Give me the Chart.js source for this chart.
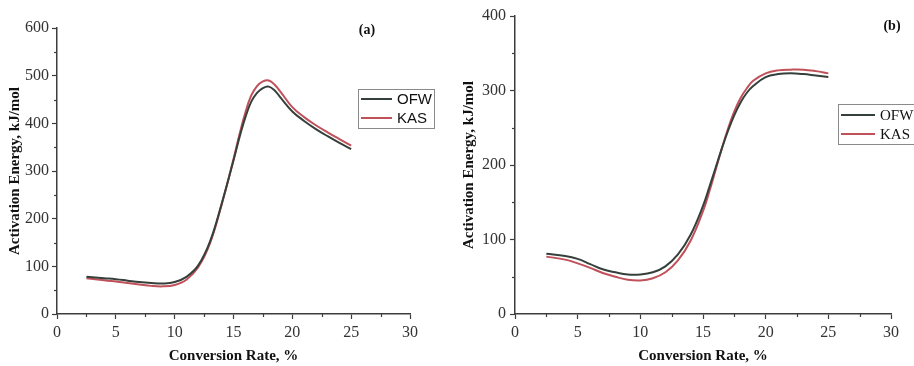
<!DOCTYPE html>
<html>
<head>
<meta charset="utf-8">
<script src="https://cdn.jsdelivr.net/npm/chart.js@4/dist/chart.umd.min.js"></script>
<style>
  html, body { margin: 0; padding: 0; background: #ffffff; }
  #wrap { position: relative; width: 914px; height: 366px; overflow: hidden; }
  .pane { position: absolute; top: 0; width: 457px; height: 366px; }
</style>
</head>
<body>
<div id="wrap">
  <div class="pane" style="left:0"><canvas id="chartA" width="457" height="366"></canvas></div>
  <div class="pane" style="left:457px"><canvas id="chartB" width="457" height="366"></canvas></div>
</div>
<script>
// Conversion rate (%) at which activation energy was evaluated
const conversionRate = [2.5, 4, 5, 6, 7, 8, 9, 10, 11, 12, 13, 14, 15, 15.5, 16, 16.5, 17, 17.5, 18, 18.5, 19, 20, 21, 22, 23, 24, 25];

// Panel (a): activation energy, kJ/mol
const ofwA = [78, 75, 73, 70, 67, 65, 64, 67, 78, 102, 152, 232, 322, 370, 412, 445, 464, 474, 477, 469, 454, 425, 405, 388, 373, 359, 346];
const kasA = [75, 71, 68, 65, 62, 59, 58, 61, 72, 98, 148, 230, 325, 376, 422, 458, 478, 488, 490, 481, 466, 434, 413, 396, 381, 367, 353];

// Panel (b): activation energy, kJ/mol
const ofwB = [81, 78, 74, 67, 60, 56, 53, 53, 56, 64, 80, 106, 145, 170, 196, 222, 246, 267, 284, 297, 306, 318, 322, 323, 322, 320, 318];
const kasB = [77, 73, 68, 62, 55, 50, 46, 45, 48, 56, 72, 98, 138, 164, 193, 222, 249, 272, 290, 303, 313, 323, 327, 328, 328, 326, 323];

const seriesNames = ['OFW', 'KAS'];
const panelLabels = ['(a)', '(b)'];
const xTitle = 'Conversion Rate, %';
const yTitle = 'Activation Energy, kJ/mol';
const xTickValues = [0, 5, 10, 15, 20, 25, 30];
const yMaxA = 600, yMaxB = 400;

const OFW_COLOR = '#36403b';
const KAS_COLOR = '#c0505a';
const AXIS_COLOR = '#3c3c3c';
const SERIF = '"Liberation Serif", "Times New Roman", serif';
const SANS = '"Liberation Sans", Arial, sans-serif';

// Short minor ticks half-way between the labelled ones, pointing outward
const minorTicks = {
  id: 'minorTicks',
  afterDraw(chart) {
    const ctx = chart.ctx;
    ctx.save();
    ctx.strokeStyle = AXIS_COLOR;
    ctx.lineWidth = 1.2;
    const x = chart.scales.x, y = chart.scales.y;
    const xs = x.ticks.map(t => t.value);
    for (let i = 0; i < xs.length - 1; i++) {
      const px = Math.round(x.getPixelForValue((xs[i] + xs[i + 1]) / 2)) + 0.5;
      ctx.beginPath(); ctx.moveTo(px, x.top); ctx.lineTo(px, x.top + 3); ctx.stroke();
    }
    const ys = y.ticks.map(t => t.value);
    for (let i = 0; i < ys.length - 1; i++) {
      const py = Math.round(y.getPixelForValue((ys[i] + ys[i + 1]) / 2)) + 0.5;
      ctx.beginPath(); ctx.moveTo(y.right, py); ctx.lineTo(y.right - 3, py); ctx.stroke();
    }
    ctx.restore();
  }
};

// Boxed legend and panel letter drawn inside the canvas
const boxLegend = {
  id: 'boxLegend',
  afterDraw(chart, args, opts) {
    const ctx = chart.ctx;
    ctx.save();
    ctx.strokeStyle = '#8a8a8a';
    ctx.lineWidth = 1;
    ctx.strokeRect(opts.x + 0.5, opts.y + 0.5, opts.w, opts.h);
    chart.data.datasets.forEach((ds, i) => {
      const ly = opts.y + opts.rowY[i];
      ctx.strokeStyle = ds.borderColor;
      ctx.lineWidth = 2;
      ctx.beginPath();
      ctx.moveTo(opts.x + 3, ly);
      ctx.lineTo(opts.x + 3 + opts.lineLen, ly);
      ctx.stroke();
      ctx.fillStyle = '#111';
      ctx.font = opts.font;
      ctx.textBaseline = 'middle';
      ctx.textAlign = 'left';
      ctx.fillText(ds.label, opts.x + opts.textX, ly + 1);
    });
    ctx.font = 'bold 14px ' + SERIF;
    ctx.fillStyle = '#111';
    ctx.textAlign = 'center';
    ctx.textBaseline = 'middle';
    ctx.fillText(opts.panel, opts.panelX, opts.panelY);
    ctx.restore();
  }
};

function makeChart(id, ofw, kas, yMax, cfg) {
  const pts = arr => conversionRate.map((c, i) => ({ x: c, y: arr[i] }));
  const lineStyle = { borderWidth: 2, pointRadius: 0, fill: false, tension: 0.4 };
  return new Chart(document.getElementById(id), {
    type: 'line',
    data: {
      datasets: [
        Object.assign({ label: seriesNames[0], data: pts(ofw), borderColor: OFW_COLOR }, lineStyle),
        Object.assign({ label: seriesNames[1], data: pts(kas), borderColor: KAS_COLOR }, lineStyle)
      ]
    },
    options: {
      responsive: false,
      animation: false,
      events: [],
      layout: { padding: { left: 0, right: cfg.padRight, top: cfg.padTop, bottom: 0 } },
      plugins: {
        legend: { display: false },
        tooltip: { enabled: false },
        boxLegend: cfg.legend
      },
      scales: {
        x: {
          type: 'linear',
          min: 0, max: 30,
          afterBuildTicks: s => { s.ticks = xTickValues.map(v => ({ value: v })); },
          afterFit: s => { s.height = 52; },
          border: { display: true, color: AXIS_COLOR, width: 1.5 },
          grid: { drawOnChartArea: false, drawTicks: true, tickLength: 5, tickColor: AXIS_COLOR, tickWidth: 1.2 },
          ticks: { color: '#333', padding: 4, maxRotation: 0, autoSkip: false, font: { family: SERIF, size: 16 } },
          title: { display: true, text: xTitle, color: '#111', padding: { top: 2, bottom: 1 }, font: { family: SERIF, size: 15, weight: 'bold' } }
        },
        y: {
          type: 'linear',
          min: 0, max: yMax,
          ticks: { stepSize: 100, color: '#333', padding: cfg.yTickPad, font: { family: SERIF, size: 16 } },
          afterFit: s => { s.width = cfg.yAxisWidth; },
          border: { display: true, color: AXIS_COLOR, width: 1.5 },
          grid: { drawOnChartArea: false, drawTicks: true, tickLength: 5, tickColor: AXIS_COLOR, tickWidth: 1.2 },
          title: { display: true, text: yTitle, color: '#111', padding: { top: cfg.yTitlePad, bottom: 0 }, font: { family: SERIF, size: 15, weight: 'bold' } }
        }
      }
    },
    plugins: [minorTicks, boxLegend]
  });
}

makeChart('chartA', ofwA, kasA, yMaxA, {
  padRight: 47, padTop: 28, yAxisWidth: 57, yTickPad: 3, yTitlePad: 6,
  legend: { x: 358, y: 89, w: 76, h: 39, rowY: [10, 29], lineLen: 31, textX: 39,
            font: '15px ' + SANS, panel: panelLabels[0], panelX: 367, panelY: 30 }
});

makeChart('chartB', ofwB, kasB, yMaxB, {
  padRight: 23, padTop: 16, yAxisWidth: 58, yTickPad: 4, yTitlePad: 3,
  legend: { x: 381, y: 104, w: 90, h: 40, rowY: [11, 30], lineLen: 34, textX: 42,
            font: '15px ' + SERIF, panel: panelLabels[1], panelX: 435, panelY: 26 }
});
</script>
</body>
</html>
